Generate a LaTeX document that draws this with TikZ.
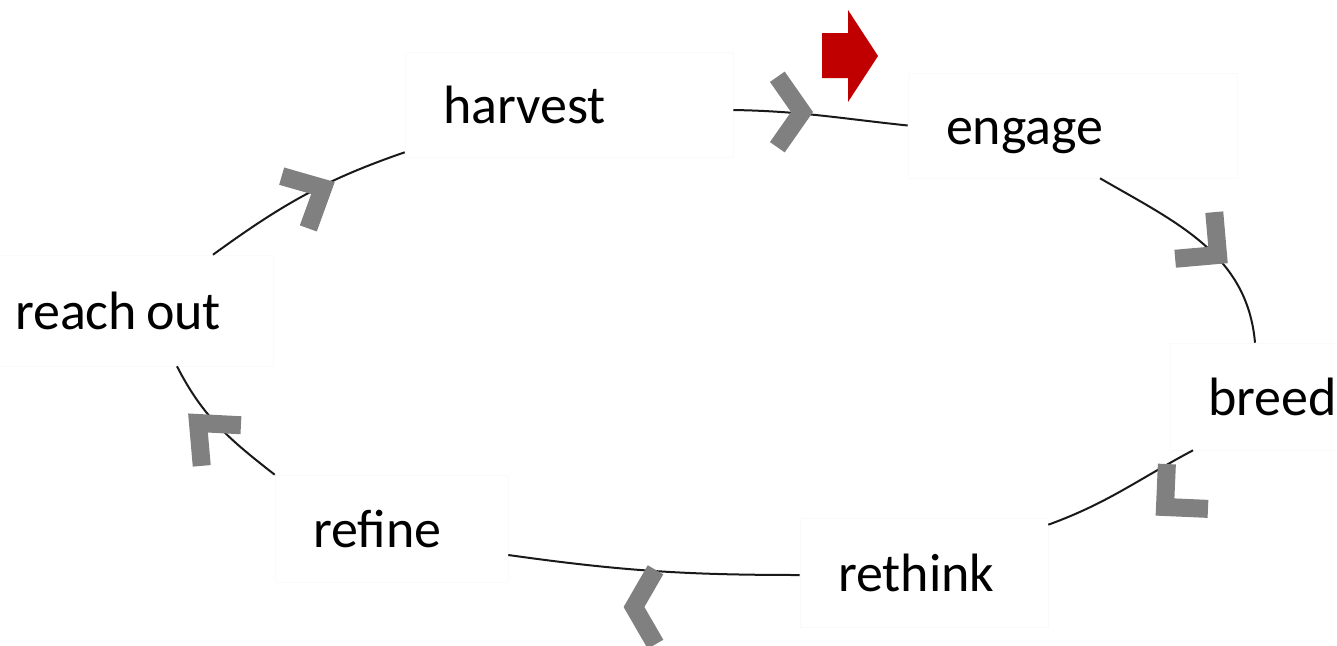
\documentclass[tikz,border=0pt]{standalone}
\usepackage{fontspec}
\setmainfont{Carlito}
\usepackage{tikz}
\usetikzlibrary{positioning}
\definecolor{chevgray}{RGB}{128,128,128}
\definecolor{startred}{RGB}{192,0,0}

\begin{document}
\begin{tikzpicture}[x=1pt,y=-1pt,semithick]
 \tikzset{
 	stage/.style={draw=black!2,inner xsep=38pt,inner ysep=0pt,align=left,
 	  text height=37pt,text depth=0pt,font=\fontsize{54}{60}\selectfont},
 	link/.style={draw=black!90,line width=2pt},
 	chev/.style={draw=chevgray,line width=18pt,miter limit=20},
 	pics/chevron/.style={code={\draw[chev] (180-#1:43pt) -- (0pt,0pt) -- (180+#1:43pt);}}
 }
 \useasboundingbox (0,0) rectangle (1337,645);

       \node[stage,text width=252pt,minimum height=105pt] (h) at (569,104.5) {harvest};
       \node[stage,text width=253pt,minimum height=105pt] (e) at (1072.5,125.5) {engage};
       \node[stage,text width=174pt,minimum height=107pt] (b) at (1295,396.5) {breed};
       \node[stage,text width=172pt,minimum height=109pt] (rt) at (924,572.5) {rethink};
       \node[stage,text width=157pt,minimum height=107pt] (rf) at (391.5,528.5) {refine};
       \node[stage,text width=220pt,minimum height=111pt] (ro) at (125,310.5) {reach\hspace{-9pt} out};

     \path[link]  ([yshift=-5.5pt]h.east) edge[out=-1,in=174] (e.west);
     \path[link]  ([xshift=27.5pt]e.south) edge[out=-30,in=95] ([xshift=-40pt]b.north);
     \path[link]  ([xshift=-102pt]b.south) edge[out=208,in=20] ([yshift=-7pt]rt.north east);
     \path[link]  ([yshift=-2.5pt]rt.west) edge[out=180,in=-8] ([yshift=-26.5pt]rf.east);
     \path[link]  (rf.north west) edge[out=142,in=-63] ([xshift=52pt]ro.south);
     \path[link]  ([xshift=88pt]ro.north) edge[out=36,in=199] ([yshift=5pt]h.south west);

     \pic[rotate=0] at (802,112) {chevron=55};
     \pic[rotate=-40] at (1218,255) {chevron=45};
     \pic[rotate=-137.5] at (1165,507) {chevron=45};
     \pic[rotate=180] at (634,607) {chevron=60};
     \pic[rotate=136] at (198,423) {chevron=41};
     \pic[rotate=27] at (323,188) {chevron=43};

     \fill[startred] (822,33) -- (848,33) -- (848,10) -- (878,56) -- (848,102) -- (848,78) -- (822,78) -- cycle;
 \end{tikzpicture}
\end{document}
